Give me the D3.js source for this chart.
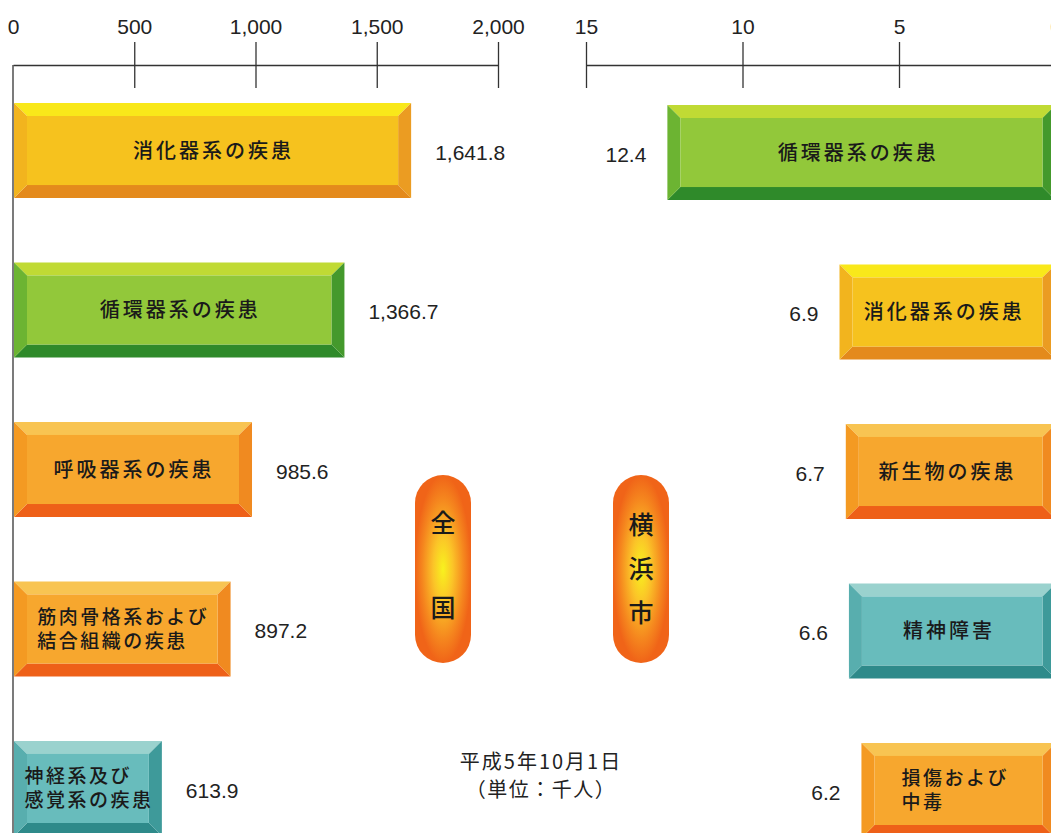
<!DOCTYPE html>
<html>
<head>
<meta charset="utf-8">
<script src="https://cdn.jsdelivr.net/npm/d3@7"></script>
<style>
  body { margin: 0; background: #fff; }
  svg { display: block; }
  .axis path, .axis line { stroke: #333; stroke-width: 1.3; }
  .axis text { font-family: "Liberation Sans", Arial, sans-serif; font-size: 21px; fill: #222; }
</style>
</head>
<body>
<svg id="chart" width="1051" height="833"></svg>
<script>
// 全国 (thousand persons)
const nationLabels = ["消化器系の疾患", "循環器系の疾患", "呼吸器系の疾患", "筋肉骨格系および\n結合組織の疾患", "神経系及び\n感覚系の疾患"];
const nationValues = [1641.8, 1366.7, 985.6, 897.2, 613.9];
// 横浜市 (thousand persons)
const yokohamaLabels = ["循環器系の疾患", "消化器系の疾患", "新生物の疾患", "精神障害", "損傷および\n中毒"];
const yokohamaValues = [12.4, 6.9, 6.7, 6.6, 6.2];

const nationTicks = [0, 500, 1000, 1500, 2000];
const yokohamaTicks = [15, 10, 5, 0];
const panelTitles = ["全国", "横浜市"];
const noteLines = ["平成5年10月1日", "（単位：千人）"];

// bevel palettes: top, left, face, right, bottom
const PALETTE = {
    yellow: { top: "#f9e81a", left: "#f2b41e", face: "#f6c21e", right: "#eb9c22", bottom: "#e48a1c" },
    green:  { top: "#c0da34", left: "#6cb432", face: "#92c83a", right: "#44992c", bottom: "#2f8a2a" },
    orange: { top: "#f8c452", left: "#f49a22", face: "#f7a72e", right: "#f08a20", bottom: "#ee6018" },
    teal:   { top: "#9ad2ce", left: "#58aeae", face: "#68bcbc", right: "#3e9a9a", bottom: "#2e8a8a" }
};
const colorOf = label => {
    if (label.startsWith("消化器")) return PALETTE.yellow;
    if (label.startsWith("循環器")) return PALETTE.green;
    if (label.startsWith("神経系") || label.startsWith("精神")) return PALETTE.teal;
    return PALETTE.orange;
};

const BEVEL = 13;
const svg = d3.select("#chart");

const defs = svg.append("defs");
const grad = defs.append("radialGradient").attr("id", "capsule").attr("cx", "50%").attr("cy", "50%").attr("r", "50%");
grad.append("stop").attr("offset", "0%").attr("stop-color", "#f8f21e");
grad.append("stop").attr("offset", "35%").attr("stop-color", "#fbc428");
grad.append("stop").attr("offset", "75%").attr("stop-color", "#f5861e");
grad.append("stop").attr("offset", "100%").attr("stop-color", "#f06418");

const xL = d3.scaleLinear().domain([0, 2000]).range([13, 498]);
const xR = d3.scaleLinear().domain([15, 0]).range([586, 1055.5]);
const yL = d3.scaleBand().domain(d3.range(nationValues.length)).range([103, 836]).paddingInner(0.404).paddingOuter(0);
const yR = d3.scaleBand().domain(d3.range(yokohamaValues.length)).range([105, 838]).paddingInner(0.404).paddingOuter(0);

const AXIS_Y = 65;

function drawAxis(scale, ticks, fmt) {
    const g = svg.append("g")
        .attr("class", "axis")
        .attr("transform", `translate(0,${AXIS_Y})`)
        .call(d3.axisTop(scale).tickValues(ticks).tickFormat(fmt).tickSize(23).tickPadding(8).tickSizeOuter(0));
    g.selectAll(".tick line").attr("y1", 23);
    return g;
}

const gl = drawAxis(xL, nationTicks, d3.format(","));
gl.selectAll(".tick line").filter(d => d === 0).remove();
drawAxis(xR, yokohamaTicks, d3.format("d"));

// left border line of the national panel
svg.append("line")
    .attr("x1", xL(0)).attr("x2", xL(0))
    .attr("y1", AXIS_Y).attr("y2", 833)
    .attr("stroke", "#333").attr("stroke-width", 1.3);

function bevelBar(x0, x1, y0, y1, pal) {
    const b = BEVEL;
    const g = svg.append("g");
    const poly = (pts, fill) => g.append("polygon").attr("points", pts.map(p => p.join(",")).join(" ")).attr("fill", fill);
    poly([[x0, y0], [x1, y0], [x1 - b, y0 + b], [x0 + b, y0 + b]], pal.top);
    poly([[x0, y1], [x1, y1], [x1 - b, y1 - b], [x0 + b, y1 - b]], pal.bottom);
    poly([[x0, y0], [x0 + b, y0 + b], [x0 + b, y1 - b], [x0, y1]], pal.left);
    poly([[x1, y0], [x1 - b, y0 + b], [x1 - b, y1 - b], [x1, y1]], pal.right);
    g.append("rect").attr("x", x0 + b).attr("y", y0 + b)
        .attr("width", Math.max(0, x1 - x0 - 2 * b)).attr("height", y1 - y0 - 2 * b)
        .attr("fill", pal.face);
    return g;
}

function barLabel(label, x0, x1, yc) {
    const lines = label.split("\n");
    const fs = lines.length > 1 ? 19 : 20;
    const lh = lines.length > 1 ? 24 : 0;
    const t = svg.append("text")
        .attr("font-family", "'Noto Sans CJK JP', sans-serif")
        .attr("font-size", fs)
        .attr("font-weight", 500)
        .attr("letter-spacing", lines.length > 1 ? 2.5 : 3)
        .attr("fill", "#1a1a1a");
    lines.forEach((s, i) => {
        t.append("tspan").text(s)
            .attr("y", yc + (i - (lines.length - 1) / 2) * lh)
            .attr("dy", "0.35em");
    });
    let maxW = 0;
    t.selectAll("tspan").each(function () { maxW = Math.max(maxW, this.getComputedTextLength()); });
    const cx = (x0 + Math.min(x1, 1051)) / 2 + (x1 > 1051 ? -2 : 0);
    t.selectAll("tspan").attr("x", cx - maxW / 2 + 1);
}

const numStyle = sel => sel
    .attr("font-family", "'Liberation Sans', Arial, sans-serif")
    .attr("font-size", 21)
    .attr("fill", "#222");

// 全国 bars
nationValues.forEach((v, i) => {
    const y0 = yL(i), y1 = y0 + yL.bandwidth();
    bevelBar(xL(0) + 1, xL(v), y0, y1, colorOf(nationLabels[i]));
    barLabel(nationLabels[i], xL(0) + 1, xL(v), (y0 + y1) / 2);
    svg.append("text").call(numStyle)
        .attr("x", xL(v) + 24).attr("y", (y0 + y1) / 2 + 2).attr("dy", "0.35em")
        .text(d3.format(",.1f")(v));
});

// 横浜市 bars
yokohamaValues.forEach((v, i) => {
    const y0 = yR(i), y1 = y0 + yR.bandwidth();
    bevelBar(xR(v), xR(0), y0, y1, colorOf(yokohamaLabels[i]));
    barLabel(yokohamaLabels[i], xR(v), xR(0), (y0 + y1) / 2);
    svg.append("text").call(numStyle)
        .attr("x", xR(v) - 21).attr("y", (y0 + y1) / 2 + 2).attr("dy", "0.35em")
        .attr("text-anchor", "end")
        .text(d3.format(".1f")(v));
});

// panel capsules
const capsules = [
    { cx: 443, title: panelTitles[0], ys: [523, 608] },
    { cx: 641, title: panelTitles[1], ys: [525, 569, 613] }
];
capsules.forEach(c => {
    svg.append("rect")
        .attr("x", c.cx - 28).attr("y", 475)
        .attr("width", 56).attr("height", 188)
        .attr("rx", 28).attr("ry", 28)
        .attr("fill", "url(#capsule)");
    Array.from(c.title).forEach((ch, i) => {
        svg.append("text")
            .attr("x", c.cx).attr("y", c.ys[i]).attr("dy", "0.35em")
            .attr("text-anchor", "middle")
            .attr("font-family", "'Noto Sans CJK JP', sans-serif")
            .attr("font-size", 25).attr("font-weight", 500)
            .attr("fill", "#1a1a1a")
            .text(ch);
    });
});

// note
noteLines.forEach((s, i) => {
    svg.append("text")
        .attr("x", 541).attr("y", 762 + i * 28).attr("dy", "0.35em")
        .attr("text-anchor", "middle")
        .attr("font-family", "'Noto Sans CJK JP', sans-serif")
        .attr("font-size", 20)
        .attr("letter-spacing", i === 0 ? 2 : 1.5)
        .attr("fill", "#222")
        .text(s);
});
</script>
</body>
</html>
